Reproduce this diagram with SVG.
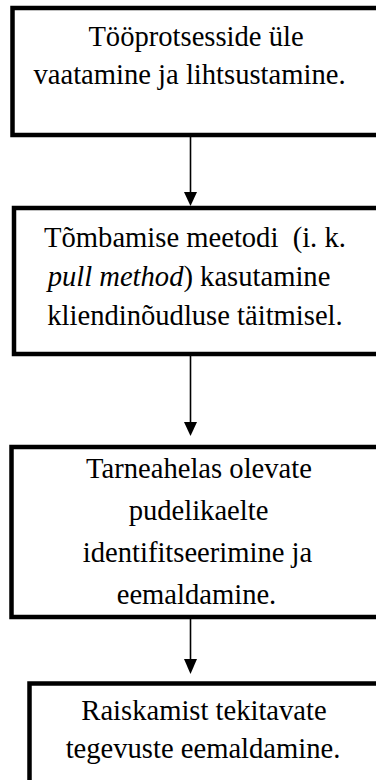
<svg xmlns="http://www.w3.org/2000/svg" width="376" height="780" viewBox="0 0 376 780">
<style>
.box{fill:#fff;stroke:#000;stroke-width:4.5}
.t{font-family:"Liberation Serif","Times New Roman",serif;font-size:28.6px;fill:#000;text-anchor:middle}
.c{stroke:#000;stroke-width:1.6;fill:none}
</style>
<defs>
<marker id="ah" markerWidth="13" markerHeight="14" refX="6.5" refY="14" orient="auto" markerUnits="userSpaceOnUse" viewBox="0 0 13 14">
<path d="M0,0 L13,0 L6.5,14 Z" fill="#000" transform="rotate(-90 6.5 7)"/>
</marker>
</defs>
<rect width="376" height="780" fill="#fff"/>
<g id="connectors">
<line class="c" x1="190.5" y1="137" x2="190.5" y2="192"/>
<path d="M184,192 L197,192 L190.5,206 Z" fill="#000"/>
<line class="c" x1="190.5" y1="356" x2="190.5" y2="422"/>
<path d="M184,422 L197,422 L190.5,436 Z" fill="#000"/>
<line class="c" x1="190.5" y1="619" x2="190.5" y2="659"/>
<path d="M184,659 L197,659 L190.5,674 Z" fill="#000"/>
</g>
<g id="n1">
<rect class="box" x="12.5" y="8" width="380" height="127"/>
<text class="t" x="196" y="45.5">Tööprotsesside üle</text>
<text class="t" x="189.5" y="83.5">vaatamine ja lihtsustamine.</text>
</g>
<g id="n2">
<rect class="box" x="14" y="208" width="380" height="146"/>
<text class="t" x="195" y="246.5" xml:space="preserve">Tõmbamise meetodi  (i. k.</text>
<text class="t" x="189" y="286"><tspan font-style="italic">pull method</tspan>) kasutamine</text>
<text class="t" x="195" y="325">kliendinõudluse täitmisel.</text>
</g>
<g id="n3">
<rect class="box" x="11.5" y="447" width="380" height="170"/>
<text class="t" x="199" y="478">Tarneahelas olevate</text>
<text class="t" x="198.5" y="520">pudelikaelte</text>
<text class="t" x="197.5" y="562">identifitseerimine ja</text>
<text class="t" x="196.5" y="603.5">eemaldamine.</text>
</g>
<g id="n4">
<rect class="box" x="29.5" y="683.5" width="380" height="130"/>
<text class="t" x="204" y="720">Raiskamist tekitavate</text>
<text class="t" x="203" y="758">tegevuste eemaldamine.</text>
</g>
</svg>
